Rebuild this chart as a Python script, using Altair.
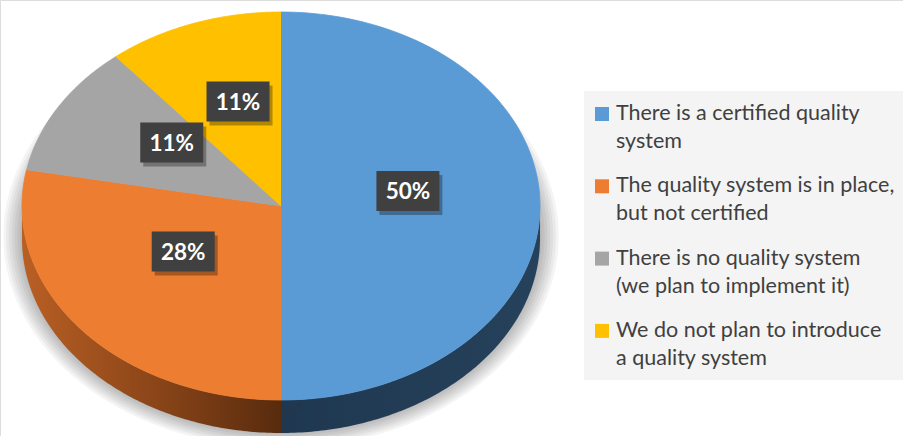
import altair as alt
import pandas as pd

# ---- data ----
categories = [
    "There is a certified quality\nsystem",
    "The quality system is in place,\nbut not certified",
    "There is no quality system\n(we plan to implement it)",
    "We do not plan to introduce\na quality system",
]
values = [50, 28, 11, 11]
labels = ["50%", "28%", "11%", "11%"]
colors = ["#5B9BD5", "#ED7D31", "#A5A5A5", "#FFC000"]

# ---- geometry (style) ----
W, H = 903, 436
CX, CY, RX, RY, DEPTH = 281, 206, 259, 194, 33
LBL_CY, LBL_K = 191, 0.49
N = 120

df = pd.DataFrame({"cat": categories, "value": values, "label": labels, "idx": list(range(len(values)))})

xs = alt.Scale(domain=[0, W], range=[0, W])
ys = alt.Scale(domain=[0, H], range=[0, H])
cscale = alt.Scale(domain=categories, range=colors)


def X(f):
    return alt.X(f, type="quantitative", scale=xs, axis=None)


def Y(f):
    return alt.Y(f, type="quantitative", scale=ys, axis=None)


def angles(chart):
    return (
        chart.transform_window(cum="sum(value)", sort=[alt.SortField("idx")], frame=[None, 0])
        .transform_joinaggregate(total="sum(value)")
        .transform_calculate(
            a0="2*PI*(datum.cum-datum.value)/datum.total",
            a1="2*PI*datum.cum/datum.total",
        )
        .transform_calculate(mid="(datum.a0+datum.a1)/2")
    )


base = alt.Chart(df)

# shadow: stacked translucent ellipses
shadow_df = pd.DataFrame({"k": list(range(7))})
shadow = (
    alt.Chart(shadow_df)
    .transform_calculate(steps=f"sequence(0,{N + 1})")
    .transform_flatten(["steps"], as_=["step"])
    .transform_calculate(
        t=f"2*PI*datum.step/{N}",
        px=f"{CX}+(261+2.8*datum.k)*sin(datum.t)",
        py=f"{CY + 30}-(198+2.3*datum.k)*cos(datum.t)",
    )
    .mark_line(filled=True, fill="#000000", fillOpacity=0.045, strokeWidth=0)
    .encode(x=X("px"), y=Y("py"), order="step:Q", detail="k:N")
)


def side_layer(i, grad):
    return (
        angles(base)
        .transform_filter(f"datum.idx=={i}")
        .transform_calculate(
            lo="max(datum.a0, PI/2)",
            hi="min(datum.a1, 3*PI/2)",
            steps=f"sequence(0,{2 * N + 2})",
        )
        .transform_filter("datum.hi > datum.lo")
        .transform_flatten(["steps"], as_=["step"])
        .transform_calculate(
            t=f"datum.step<={N} ? datum.lo+(datum.hi-datum.lo)*datum.step/{N} : datum.hi-(datum.hi-datum.lo)*(datum.step-{N + 1})/{N}",
        )
        .transform_calculate(
            px=f"{CX}+{RX}*sin(datum.t)",
            py=f"{CY}-{RY}*cos(datum.t)+(datum.step>{N} ? {DEPTH} : 0)",
        )
        .mark_line(filled=True, fill=grad, strokeWidth=0)
        .encode(x=X("px"), y=Y("py"), order="step:Q", detail="cat:N")
    )


blue_side = side_layer(
    0,
    alt.LinearGradient(
        gradient="linear", x1=0, x2=1, y1=0, y2=0,
        stops=[alt.GradientStop(color="#1f3850", offset=0), alt.GradientStop(color="#26415b", offset=1)],
    ),
)
orange_side = side_layer(
    1,
    alt.LinearGradient(
        gradient="linear", x1=0, x2=1, y1=0, y2=0,
        stops=[
            alt.GradientStop(color="#b95f24", offset=0),
            alt.GradientStop(color="#8c4619", offset=0.5),
            alt.GradientStop(color="#582b0e", offset=1),
        ],
    ),
)

top = (
    angles(base)
    .transform_calculate(steps=f"sequence(0,{N + 2})")
    .transform_flatten(["steps"], as_=["step"])
    .transform_calculate(t=f"datum.a0+(datum.a1-datum.a0)*(datum.step-1)/{N}")
    .transform_calculate(
        px=f"datum.step==0 ? {CX} : {CX}+{RX}*sin(datum.t)",
        py=f"datum.step==0 ? {CY} : {CY}-{RY}*cos(datum.t)",
    )
    .mark_line(filled=True, strokeWidth=0.8)
    .encode(
        x=X("px"), y=Y("py"),
        color=alt.Color("cat:N", scale=cscale, legend=None),
        stroke=alt.Stroke("cat:N", scale=cscale, legend=None),
        order="step:Q", detail="cat:N",
    )
)

lbl = angles(base).transform_calculate(
    lx=f"{CX}+{LBL_K}*{RX}*sin(datum.mid)",
    ly=f"{LBL_CY}-{LBL_K}*{RY}*cos(datum.mid)",
)
box_shape = "M-1,-0.635L1,-0.635L1,0.635L-1,0.635Z"
box_shadow = lbl.mark_point(
    shape=box_shape, size=63 * 63, filled=True, fill="#000000", opacity=0.3, strokeWidth=0, xOffset=3, yOffset=4
).encode(x=X("lx"), y=Y("ly"))
boxes = lbl.mark_point(
    shape=box_shape, size=63 * 63, filled=True, fill="#404040", opacity=1, strokeWidth=0
).encode(x=X("lx"), y=Y("ly"))
texts = lbl.mark_text(
    font="Lato", fontWeight="bold", fontSize=22.5, color="#ffffff", align="center", baseline="middle", dy=1
).encode(x=X("lx"), y=Y("ly"), text="label:N")

# legend
legend_bg = (
    alt.Chart(pd.DataFrame({"a": [0]}))
    .mark_rect(fill="#f4f4f4")
    .encode(x=alt.value(584), x2=alt.value(W), y=alt.value(91), y2=alt.value(380))
)
leg = base.transform_calculate(
    sy="114+datum.idx*72.3",
    ty="120+datum.idx*72.3",
)
leg_sq = leg.mark_square(size=196, opacity=1).encode(
    x=alt.value(602), y=Y("sy"), color=alt.Color("cat:N", scale=cscale, legend=None)
)
leg_txt = leg.mark_text(
    font="Lato", fontSize=21.5, color="#404040", align="left", baseline="alphabetic", lineBreak="\n", lineHeight=28
).encode(x=alt.value(616), y=Y("ty"), text="cat:N")

chart = (
    alt.layer(shadow, blue_side, orange_side, top, box_shadow, boxes, texts, legend_bg, leg_sq, leg_txt)
    .properties(width=W, height=H, padding=0, autosize=alt.AutoSizeParams(type="none"))
    .configure_view(stroke=None)
    .configure(background="#ffffff")
)

chart.save("out.html", embed_options={"renderer": "svg", "actions": False})
